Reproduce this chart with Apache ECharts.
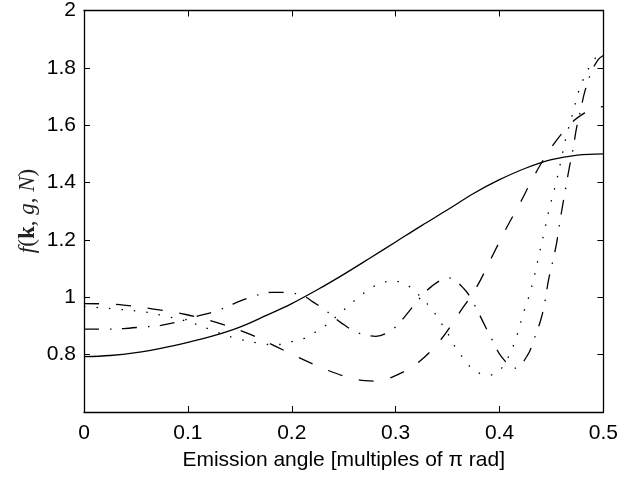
<!DOCTYPE html>
<html>
<head>
<meta charset="utf-8">
<script src="https://cdn.jsdelivr.net/npm/echarts@6/dist/echarts.min.js"></script>
<style>
  html, body { margin: 0; padding: 0; background: #fff; }
  #chart { width: 621px; height: 477px; }
</style>
</head>
<body>
<div id="chart"></div>
<script>
// values (x in multiples of pi rad)
const solidX = [0, 0.025, 0.05, 0.075, 0.1, 0.125, 0.15, 0.175, 0.2, 0.225, 0.25, 0.275, 0.3, 0.325, 0.35, 0.375, 0.4, 0.425, 0.45, 0.475, 0.5];
const solidY = [0.793, 0.797, 0.807, 0.823, 0.843, 0.866, 0.896, 0.936, 0.978, 1.027, 1.08, 1.136, 1.193, 1.25, 1.305, 1.362, 1.41, 1.45, 1.48, 1.496, 1.5];

const dashX = [0, 0.02, 0.038, 0.067, 0.098, 0.128, 0.157, 0.185, 0.208, 0.235, 0.264, 0.28, 0.295, 0.321, 0.343, 0.361, 0.378, 0.392, 0.406, 0.42, 0.434, 0.45, 0.468, 0.482, 0.493, 0.5];
const dashY = [0.978, 0.977, 0.973, 0.959, 0.94, 0.912, 0.875, 0.828, 0.788, 0.745, 0.712, 0.708, 0.719, 0.771, 0.85, 0.944, 1.036, 1.136, 1.237, 1.33, 1.428, 1.523, 1.604, 1.643, 1.661, 1.665];

const dotX = [0, 0.011, 0.034, 0.058, 0.08, 0.103, 0.124, 0.146, 0.168, 0.18, 0.191, 0.2, 0.212, 0.222, 0.232, 0.249, 0.258, 0.267, 0.276, 0.286, 0.298, 0.309, 0.318, 0.326, 0.334, 0.341, 0.347, 0.353, 0.358, 0.365, 0.373, 0.382, 0.39, 0.397, 0.402, 0.408, 0.413, 0.417, 0.42, 0.423, 0.427, 0.433, 0.438, 0.443, 0.448, 0.454, 0.459, 0.464, 0.47, 0.476, 0.48, 0.485, 0.491, 0.498, 0.5];
const dotY = [0.968, 0.965, 0.958, 0.949, 0.933, 0.912, 0.884, 0.857, 0.84, 0.835, 0.836, 0.845, 0.857, 0.877, 0.9, 0.952, 0.981, 1.008, 1.031, 1.05, 1.057, 1.047, 1.023, 0.994, 0.962, 0.927, 0.892, 0.857, 0.822, 0.788, 0.753, 0.733, 0.728, 0.737, 0.753, 0.788, 0.828, 0.869, 0.907, 0.946, 0.987, 1.066, 1.147, 1.228, 1.31, 1.393, 1.474, 1.557, 1.635, 1.716, 1.754, 1.793, 1.828, 1.858, 1.862];

const dashDotX = [0, 0.026, 0.038, 0.055, 0.074, 0.091, 0.11, 0.128, 0.145, 0.162, 0.18, 0.196, 0.2125, 0.22, 0.233, 0.248, 0.263, 0.281, 0.298, 0.31, 0.322, 0.335, 0.351, 0.366, 0.376, 0.384, 0.393, 0.402, 0.415, 0.427, 0.434, 0.44, 0.444, 0.447, 0.451, 0.455, 0.459, 0.464, 0.467, 0.471, 0.474, 0.478, 0.482, 0.488, 0.495, 0.5];
const dashDotY = [0.889, 0.889, 0.891, 0.896, 0.902, 0.915, 0.935, 0.953, 0.979, 1.002, 1.017, 1.017, 1.002, 0.985, 0.953, 0.91, 0.877, 0.864, 0.891, 0.938, 0.991, 1.039, 1.068, 1.029, 0.973, 0.915, 0.851, 0.792, 0.753, 0.798, 0.861, 0.925, 0.991, 1.057, 1.122, 1.19, 1.283, 1.387, 1.449, 1.521, 1.588, 1.652, 1.716, 1.782, 1.829, 1.843];

const xTicks = [0, 0.1, 0.2, 0.3, 0.4, 0.5];
const yTickLabels = ['0.8', '1', '1.2', '1.4', '1.6', '1.8', '2'];

const xLabel = 'Emission angle [multiples of \u03c0 rad]';

function pairs(xs, ys) {
    return xs.map((x, i) => [x, ys[i]]);
}

const chart = echarts.init(document.getElementById('chart'), null, { renderer: 'canvas' });

const tickFont = { fontFamily: 'Liberation Sans, Arial, sans-serif', fontSize: 21, color: '#000' };

function xAxisCfg(pos, showLabels) {
    return {
        type: 'value',
        position: pos,
        min: xTicks[0],
        max: xTicks[xTicks.length - 1],
        interval: 0.1,
        axisLine: { show: true, onZero: false, lineStyle: { color: '#000', width: 1.3 } },
        axisTick: { show: true, inside: true, length: 6, lineStyle: { color: '#000', width: 1 } },
        splitLine: { show: false },
        axisLabel: {
            show: showLabels,
            margin: 11,
            ...tickFont,
            formatter: v => String(+v.toFixed(1))
        }
    };
}

function yAxisCfg(pos, showLabels) {
    return {
        type: 'value',
        position: pos,
        min: 0.6,
        max: 2,
        interval: 0.2,
        axisLine: { show: true, onZero: false, lineStyle: { color: '#000', width: 1.3 } },
        axisTick: { show: true, inside: true, length: 6, lineStyle: { color: '#000', width: 1 } },
        splitLine: { show: false },
        axisLabel: {
            show: showLabels,
            margin: 8,
            ...tickFont,
            formatter: v => {
                const s = String(+v.toFixed(1));
                return yTickLabels.indexOf(s) >= 0 ? s : '';
            }
        }
    };
}

const xMain = xAxisCfg('bottom', true);
xMain.name = xLabel;
xMain.nameLocation = 'middle';
xMain.nameGap = 38;
xMain.nameTextStyle = { fontFamily: 'Liberation Sans, Arial, sans-serif', fontSize: 21, color: '#000' };

function lineSeries(name, data, type, width) {
    return {
        name: name,
        type: 'line',
        xAxisIndex: 0,
        yAxisIndex: 0,
        data: data,
        showSymbol: false,
        smooth: 0.35,
        animation: false,
        lineStyle: { color: '#000', width: width, type: type, cap: 'butt' }
    };
}

const option = {
    backgroundColor: '#ffffff',
    animation: false,
    grid: { left: 84, right: 17, top: 10, bottom: 65, show: false },
    xAxis: [xMain, xAxisCfg('top', false)],
    yAxis: [yAxisCfg('left', true), yAxisCfg('right', false)],
    series: [
        lineSeries('solid', pairs(solidX, solidY), 'solid', 1.3),
        lineSeries('dashed', pairs(dashX, dashY), [15, 17], 1.3),
        lineSeries('dotted', pairs(dotX, dotY), [1.5, 11], 1.3),
        lineSeries('dashdot', pairs(dashDotX, dashDotY), [15, 11, 1.5, 10.5], 1.3)
    ],
    graphic: [{
        type: 'text',
        x: 28,
        y: 211,
        rotation: Math.PI / 2,
        style: {
            text: '{i|f}{n|(}{b|k}{n|, }{i|g}{n|, }{i|N}{n|)}',
            align: 'center',
            verticalAlign: 'middle',
            fill: '#222',
            rich: {
                i: { fontFamily: 'Liberation Serif, serif', fontStyle: 'italic', fontSize: 23, fill: '#222' },
                n: { fontFamily: 'Liberation Serif, serif', fontSize: 23, fill: '#222' },
                b: { fontFamily: 'Liberation Serif, serif', fontWeight: 'bold', fontSize: 23, fill: '#222' }
            }
        }
    }]
};

chart.setOption(option);
</script>
</body>
</html>
